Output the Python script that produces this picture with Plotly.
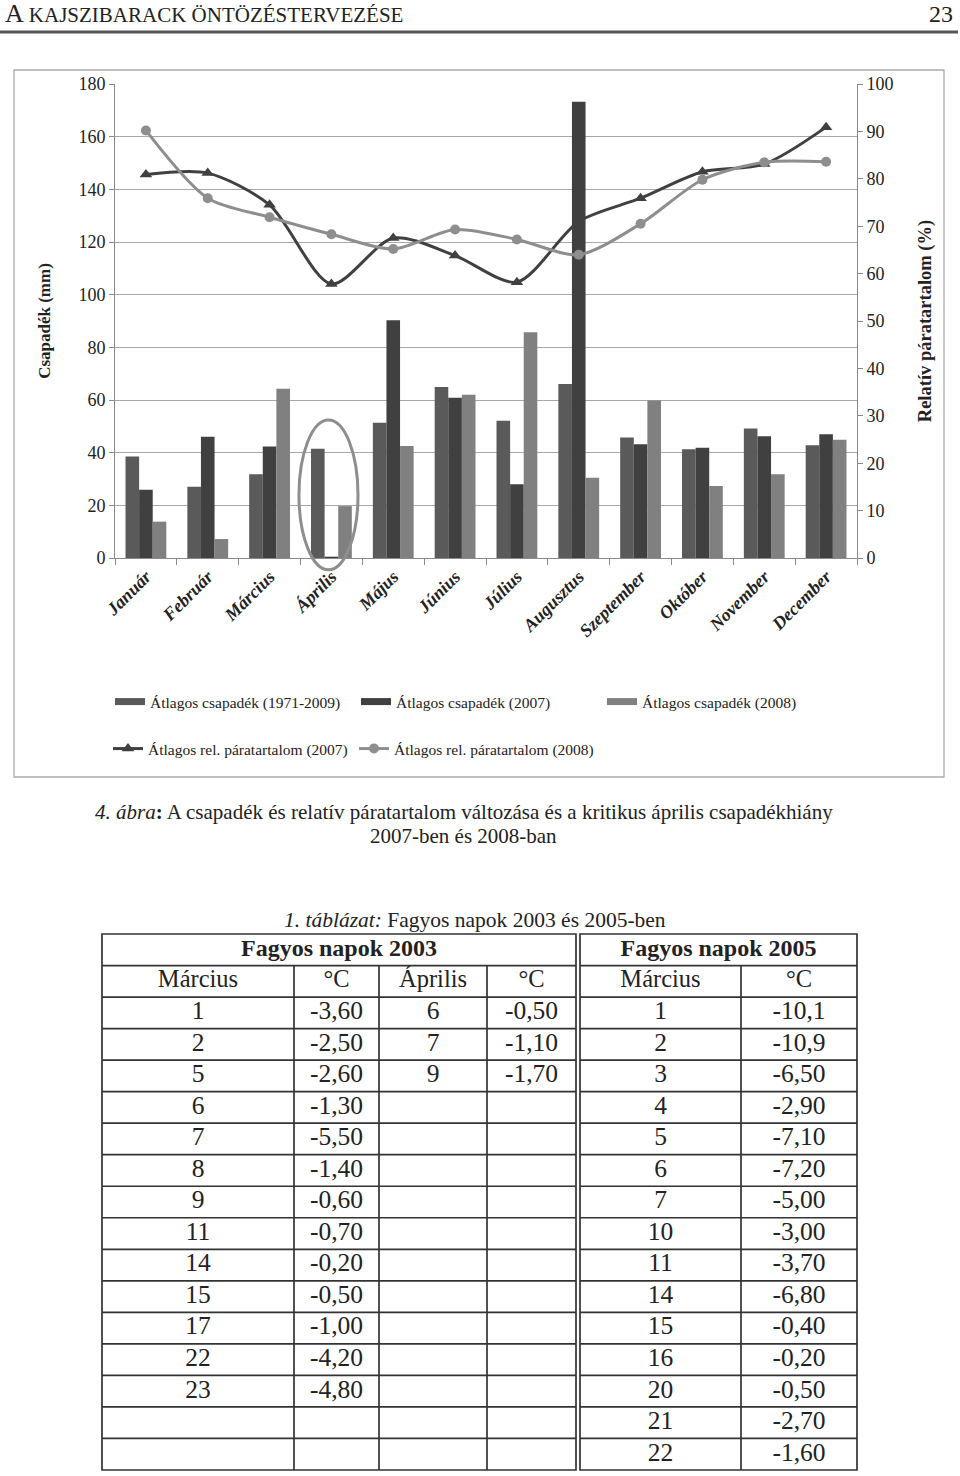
import plotly.graph_objects as go

W, H = 960, 1476
FONT = "Liberation Serif"


def fx(x):
    return x / W


def fy(y):
    return 1 - y / H


# ---------------- data ----------------
months = ["Január", "Február", "Március", "Április", "Május", "Június", "Július",
          "Augusztus", "Szeptember", "Október", "November", "December"]
rain_avg = [38.5, 27.1, 31.8, 41.5, 51.4, 64.9, 52.1, 66.1, 45.8, 41.3, 49.2, 42.8]
rain_2007 = [25.9, 46.0, 42.3, 0.5, 90.3, 60.9, 28.0, 173.3, 43.2, 41.9, 46.2, 47.0]
rain_2008 = [13.8, 7.2, 64.3, 19.7, 42.5, 62.0, 85.7, 30.5, 59.8, 27.3, 31.8, 44.9]
rh_2007 = [80.9, 81.2, 74.5, 57.8, 67.5, 63.8, 58.2, 71.0, 75.9, 81.5, 83.1, 90.9]
rh_2008 = [90.2, 75.9, 71.9, 68.3, 65.2, 69.3, 67.2, 64.0, 70.5, 79.8, 83.5, 83.6]

series_names = ["Átlagos csapadék (1971-2009)", "Átlagos csapadék (2007)", "Átlagos csapadék (2008)",
                "Átlagos rel. páratartalom (2007)", "Átlagos rel. páratartalom (2008)"]

# table data
mar2003_day = ["1", "2", "5", "6", "7", "8", "9", "11", "14", "15", "17", "22", "23"]
mar2003_temp = ["-3,60", "-2,50", "-2,60", "-1,30", "-5,50", "-1,40", "-0,60", "-0,70",
                "-0,20", "-0,50", "-1,00", "-4,20", "-4,80"]
apr2003_day = ["6", "7", "9"]
apr2003_temp = ["-0,50", "-1,10", "-1,70"]
mar2005_day = ["1", "2", "3", "4", "5", "6", "7", "10", "11", "14", "15", "16", "20", "21", "22"]
mar2005_temp = ["-10,1", "-10,9", "-6,50", "-2,90", "-7,10", "-7,20", "-5,00", "-3,00",
                "-3,70", "-6,80", "-0,40", "-0,20", "-0,50", "-2,70", "-1,60"]
table_titles = ["Fagyos napok 2003", "Fagyos napok 2005"]
col_heads = ["Március", "°C", "Április", "°C", "Március", "°C"]
table_columns = [mar2003_day, mar2003_temp, apr2003_day, apr2003_temp, mar2005_day, mar2005_temp]

# ---------------- style ----------------
c_avg, c_07, c_08 = "#5a5a5a", "#404040", "#808080"
l_07, l_08 = "#404040", "#8e8e8e"
txt = "#222222"

fig = go.Figure()
for name, vals, col in zip(series_names[:3], [rain_avg, rain_2007, rain_2008], [c_avg, c_07, c_08]):
    fig.add_trace(go.Bar(x=months, y=vals, name=name, marker=dict(color=col, line=dict(width=0)),
                         showlegend=False, legendgroup=name, hoverinfo="skip"))
    # legend entry drawn as a flat bar swatch (no data)
    fig.add_trace(go.Scatter(x=[None], y=[None], name=name, mode="lines", legendgroup=name,
                             line=dict(color=col, width=7), legend="legend", hoverinfo="skip"))
fig.add_trace(go.Scatter(x=months, y=rh_2007, name=series_names[3], yaxis="y2", mode="lines+markers",
                         line=dict(color=l_07, width=3, shape="spline", smoothing=0.8),
                         marker=dict(symbol="triangle-up", size=11, color=l_07), legend="legend2",
                         hoverinfo="skip"))
fig.add_trace(go.Scatter(x=months, y=rh_2008, name=series_names[4], yaxis="y2", mode="lines+markers",
                         line=dict(color=l_08, width=3, shape="spline", smoothing=0.8),
                         marker=dict(symbol="circle", size=10, color=l_08), legend="legend2",
                         hoverinfo="skip"))

# ---------------- table (drawn on its own pixel-unit axes) ----------------
col_edges = [102, 294, 379, 487, 576, 741, 857]   # column borders (px); 576/580 = double line
split_gap = 4
tbl_top, tbl_bottom = 934, 1470
n_data_rows = max(len(c) for c in table_columns)
n_rows = 2 + n_data_rows
row_h = (tbl_bottom - tbl_top) / n_rows


def col_bounds(i):
    left = col_edges[i] + (split_gap if i == 4 else 0)
    return left, col_edges[i + 1]


def row_center(r):
    return tbl_top + (r + 0.5) * row_h


# title row
fig.add_trace(go.Scatter(
    x=[(col_edges[0] + col_edges[4]) / 2, (col_edges[4] + split_gap + col_edges[6]) / 2],
    y=[row_center(0)] * 2, text=["<b>" + t + "</b>" for t in table_titles], mode="text",
    textposition="middle center", textfont=dict(family=FONT, size=24, color=txt),
    xaxis="x3", yaxis="y3", showlegend=False, hoverinfo="skip"))
# header row
fig.add_trace(go.Scatter(
    x=[sum(col_bounds(i)) / 2 for i in range(len(col_heads))], y=[row_center(1)] * len(col_heads),
    text=col_heads, mode="text", textposition="middle center",
    textfont=dict(family=FONT, size=24.5, color=txt),
    xaxis="x3", yaxis="y3", showlegend=False, hoverinfo="skip"))
# data columns
for i, vals in enumerate(table_columns):
    a, b = col_bounds(i)
    fig.add_trace(go.Scatter(
        x=[(a + b) / 2] * len(vals), y=[row_center(r) for r in range(2, 2 + len(vals))],
        text=vals, mode="text", textposition="middle center",
        textfont=dict(family=FONT, size=25.5, color=txt),
        xaxis="x3", yaxis="y3", showlegend=False, hoverinfo="skip"))

tline = dict(color="#333333", width=1.7)
table_shapes = []
blocks = [(col_edges[0], col_edges[4]), (col_edges[4] + split_gap, col_edges[6])]
for a, b in blocks:
    table_shapes.append(dict(type="rect", xref="x3", yref="y3", x0=a, x1=b, y0=tbl_top, y1=tbl_bottom,
                             line=tline))
    for r in range(1, n_rows):
        yy = tbl_top + r * row_h
        table_shapes.append(dict(type="line", xref="x3", yref="y3", x0=a, x1=b, y0=yy, y1=yy, line=tline))
for i in [1, 2, 3, 5]:
    table_shapes.append(dict(type="line", xref="x3", yref="y3", x0=col_edges[i], x1=col_edges[i],
                             y0=tbl_top + row_h, y1=tbl_bottom, line=tline))

# ---------------- layout ----------------
apr = months.index("Április")
n_m = len(months)
axis_col = "#8a8a8a"
fig.update_layout(
    width=W, height=H, autosize=False,
    margin=dict(l=0, r=0, t=0, b=0, pad=0, autoexpand=False),
    paper_bgcolor="white", plot_bgcolor="white",
    font=dict(family=FONT, color=txt),
    barmode="group", bargap=0.34, bargroupgap=0,
    xaxis=dict(domain=[fx(115), fx(857)], anchor="y", range=[-0.5, n_m - 0.5], autorange=False,
               showline=True, linecolor=axis_col, linewidth=1, automargin=False,
               ticks="outside", tickson="boundaries", ticklen=6, tickcolor=axis_col, tickangle=-45,
               tickfont=dict(family=FONT, size=18, weight="bold", style="italic", color=txt),
               showgrid=False, fixedrange=True),
    yaxis=dict(domain=[fy(558), fy(84)], range=[0, 180], dtick=20, showline=True, linecolor=axis_col,
               ticks="outside", ticklen=5, tickcolor=axis_col, gridcolor="#a8a8a8", gridwidth=1,
               zeroline=False, tickfont=dict(family=FONT, size=18, color=txt), fixedrange=True,
               automargin=False,
               title=dict(text="<b>Csapadék (mm)</b>", font=dict(family=FONT, size=17, color=txt), standoff=23)),
    yaxis2=dict(overlaying="y", side="right", anchor="x", range=[0, 100], dtick=10, showline=True,
                linecolor=axis_col, ticks="outside", ticklen=5, tickcolor=axis_col, showgrid=False,
                zeroline=False, tickfont=dict(family=FONT, size=18, color=txt), fixedrange=True,
                automargin=False,
                title=dict(text="<b>Relatív páratartalom (%)</b>", font=dict(family=FONT, size=18.5, color=txt),
                           standoff=25)),
    xaxis3=dict(domain=[fx(98), fx(861)], range=[98, 861], visible=False, fixedrange=True, anchor="y3",
                automargin=False),
    yaxis3=dict(domain=[fy(1474), fy(930)], range=[1474, 930], visible=False, fixedrange=True, anchor="x3",
                automargin=False),
    legend=dict(orientation="h", x=fx(110), xanchor="left", y=fy(702), yanchor="middle",
                entrywidth=201, entrywidthmode="pixels", font=dict(family=FONT, size=15.5, color=txt),
                bgcolor="rgba(0,0,0,0)", traceorder="normal", itemwidth=30),
    legend2=dict(orientation="h", x=fx(108), xanchor="left", y=fy(749), yanchor="middle",
                 entrywidth=201, entrywidthmode="pixels", font=dict(family=FONT, size=15.5, color=txt),
                 bgcolor="rgba(0,0,0,0)", traceorder="normal"),
    shapes=[
        dict(type="line", xref="paper", yref="paper", x0=0, x1=fx(958), y0=fy(32), y1=fy(32),
             line=dict(color="#555555", width=3)),
        dict(type="rect", xref="paper", yref="paper", x0=fx(14), x1=fx(944), y0=fy(777), y1=fy(70),
             line=dict(color="#aaaaaa", width=1.3), layer="below"),
        # highlight ellipse around the April group (fractions of the x/y axis domains)
        dict(type="circle", xref="x domain", yref="y domain",
             x0=(apr + 0.5 - 0.525) / n_m, x1=(apr + 0.5 + 0.43) / n_m, y0=-0.025, y1=0.291,
             line=dict(color="#8e8e8e", width=3)),
    ] + table_shapes,
    annotations=[
        dict(text="A <span style='font-size:21px'>KAJSZIBARACK ÖNTÖZÉSTERVEZÉSE</span>", xref="paper",
             yref="paper", x=fx(3), y=fy(14), xanchor="left", yanchor="middle", showarrow=False,
             font=dict(family=FONT, size=26, color=txt)),
        dict(text="23", xref="paper", yref="paper", x=fx(955), y=fy(14), xanchor="right", yanchor="middle",
             showarrow=False, font=dict(family=FONT, size=24, color=txt)),
        dict(text="<i>4. ábra</i><b>:</b> A csapadék és relatív páratartalom változása és a kritikus április "
                  "csapadékhiány",
             xref="paper", yref="paper", x=fx(464), y=fy(812), xanchor="center", yanchor="middle",
             showarrow=False, font=dict(family=FONT, size=21, color=txt)),
        dict(text="2007-ben és 2008-ban",
             xref="paper", yref="paper", x=fx(463), y=fy(836), xanchor="center", yanchor="middle",
             showarrow=False, font=dict(family=FONT, size=21, color=txt)),
        dict(text="<i>1. táblázat:</i> Fagyos napok 2003 és 2005-ben", xref="paper", yref="paper",
             x=fx(475), y=fy(920), xanchor="center", yanchor="middle", showarrow=False,
             font=dict(family=FONT, size=21.5, color=txt)),
    ],
)

fig.write_html("out.html", config={"displayModeBar": False, "staticPlot": True},
               post_script="document.body.style.margin='0';document.body.style.overflow='hidden';")
